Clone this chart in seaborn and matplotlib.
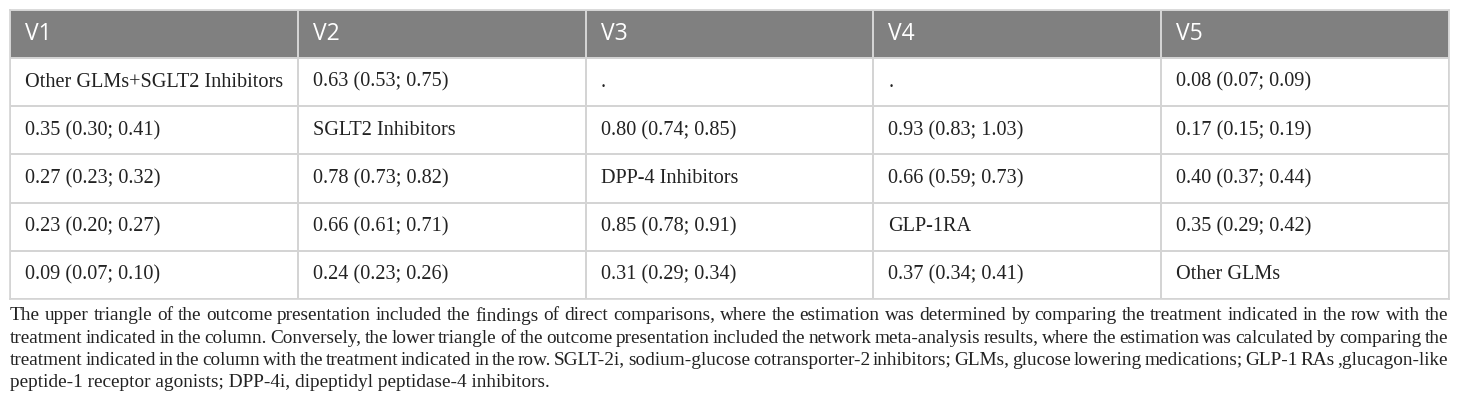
import numpy as np
import pandas as pd
import seaborn as sns
import matplotlib.pyplot as plt
from matplotlib.colors import ListedColormap

columns = ['V1', 'V2', 'V3', 'V4', 'V5']
row1 = ['Other GLMs+SGLT2 Inhibitors', '0.63 (0.53; 0.75)', '.', '.', '0.08 (0.07; 0.09)']
row2 = ['0.35 (0.30; 0.41)', 'SGLT2 Inhibitors', '0.80 (0.74; 0.85)', '0.93 (0.83; 1.03)', '0.17 (0.15; 0.19)']
row3 = ['0.27 (0.23; 0.32)', '0.78 (0.73; 0.82)', 'DPP-4 Inhibitors', '0.66 (0.59; 0.73)', '0.40 (0.37; 0.44)']
row4 = ['0.23 (0.20; 0.27)', '0.66 (0.61; 0.71)', '0.85 (0.78; 0.91)', 'GLP-1RA', '0.35 (0.29; 0.42)']
row5 = ['0.09 (0.07; 0.10)', '0.24 (0.23; 0.26)', '0.31 (0.29; 0.34)', '0.37 (0.34; 0.41)', 'Other GLMs']

caption_lines = [
    'The upper triangle of the outcome presentation included the findings of direct comparisons, where the estimation was determined by comparing the treatment indicated in the row with the',
    'treatment indicated in the column. Conversely, the lower triangle of the outcome presentation included the network meta-analysis results, where the estimation was calculated by comparing the',
    'treatment indicated in the column with the treatment indicated in the row. SGLT-2i, sodium-glucose cotransporter-2 inhibitors; GLMs, glucose lowering medications; GLP-1 RAs ,glucagon-like',
    'peptide-1 receptor agonists; DPP-4i, dipeptidyl peptidase-4 inhibitors.',
]

body = pd.DataFrame([row1, row2, row3, row4, row5], columns=columns)

# 1 = header cell, 0 = body cell
shade = np.zeros((len(body) + 1, len(columns)))
shade[0, :] = 1

W, H = 1460, 411
fig = plt.figure(figsize=(W / 100, H / 100), dpi=100)
left, right, top, bottom = 10, 1449, 10, 299
ax = fig.add_axes([left / W, 1 - bottom / H, (right - left) / W, (bottom - top) / H])

sns.heatmap(shade, ax=ax, cmap=ListedColormap(['white', '#808080']), vmin=0, vmax=1,
            cbar=False, linewidths=1.2, linecolor='#d4d4d4',
            xticklabels=False, yticklabels=False)
for s in ax.spines.values():
    s.set_visible(True)
    s.set_color('#d4d4d4')
    s.set_linewidth(1.2)

pad = 0.052
for j, name in enumerate(columns):
    ax.text(j + pad, 0.5, name, ha='left', va='center', color='white',
            fontsize=16.5, family='Open Sans')
for i, row in body.iterrows():
    for j, val in enumerate(row):
        ax.text(j + pad, i + 1.5, val, ha='left', va='center', color='#222222',
                fontsize=14.6, family='Liberation Serif')

# caption, justified like the source except the last line
renderer = fig.canvas.get_renderer()
cap_x0, cap_x1 = 10 / W, 1448 / W
fs_cap = 13.9
for k, line in enumerate(caption_lines):
    y = 1 - (316 + 22 * k) / H
    words = line.split(' ')
    if k == len(caption_lines) - 1:
        fig.text(cap_x0, y, line, ha='left', va='center', fontsize=fs_cap,
                 family='Liberation Serif', color='#222222')
        continue
    arts = [fig.text(0, y, w_, ha='left', va='center', fontsize=fs_cap,
                     family='Liberation Serif', color='#222222') for w_ in words]
    widths = [a.get_window_extent(renderer).width / W for a in arts]
    gap = (cap_x1 - cap_x0 - sum(widths)) / (len(words) - 1)
    x = cap_x0
    for a, wd in zip(arts, widths):
        a.set_x(x)
        x += wd + gap

fig.savefig('out.png', dpi=100)
